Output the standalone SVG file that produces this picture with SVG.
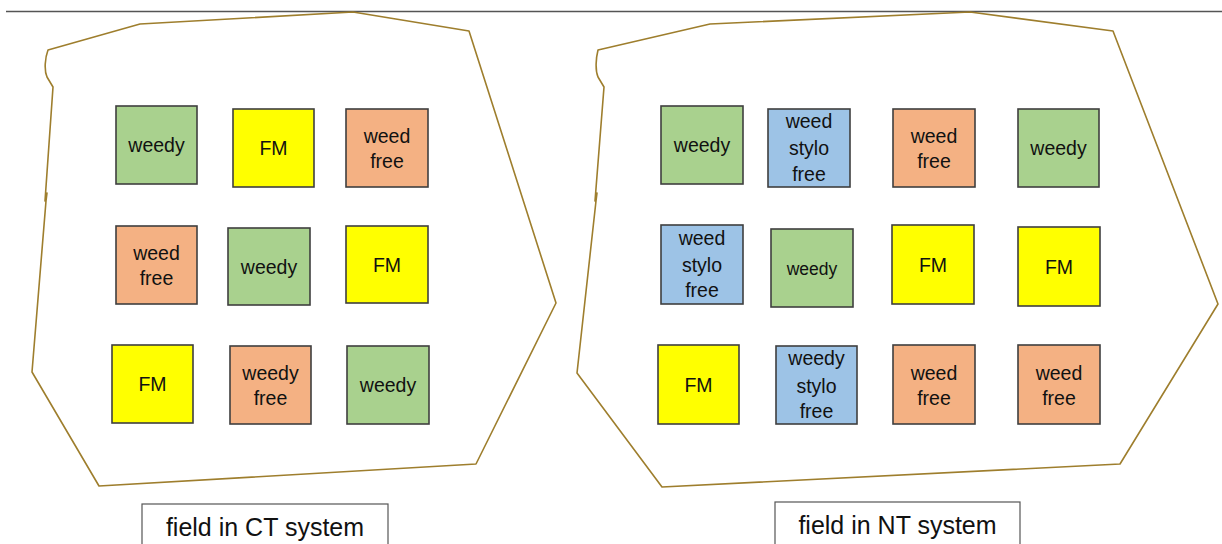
<svg xmlns="http://www.w3.org/2000/svg" width="1222" height="544" viewBox="0 0 1222 544">
<style>
.bg{fill:#ffffff}
.field{fill:none;stroke:#9E7E2D;stroke-width:1.6;stroke-linejoin:round}
.plot{stroke:#3F3F3F;stroke-width:1.6}
.g{fill:#A9D18E}
.y{fill:#FFFF00}
.o{fill:#F4B183}
.b{fill:#9DC3E6}
.t{font-family:"Liberation Sans",Arial,sans-serif;font-size:19.5px;fill:#111111;text-anchor:middle}
.ts{font-size:17.5px}
.lbl{fill:#ffffff;stroke:#555555;stroke-width:1.2}
.lt{font-family:"Liberation Sans",Arial,sans-serif;font-size:25px;fill:#111111;text-anchor:middle}
</style>
<rect class="bg" x="0" y="0" width="1222" height="544"/>
<line x1="6" y1="11.5" x2="1222" y2="11.5" stroke="#555555" stroke-width="1.5"/>
<g id="field-ct">
<path class="field" d="M48,50 L140,24 L353,12 L469,31 L556,303 L476,464 L99,486 L32,372 L46,201 L47,193 L45,201 L53,87 L47,77 C44,70 45,58 48,50 Z"/>
</g>
<g id="field-nt">
<path class="field" d="M598,50 L710,24 L970,12 L1113,31 L1218,304 L1120,464 L662,487 L577,373 L596,201 L597,193 L595,201 L604,87 L598,77 C595,70 596,58 598,50 Z"/>
</g>
<g id="connectors"/>
<g id="ct1"><rect class="plot g" x="116" y="106" width="81" height="78"/><text class="t" x="156.5" y="152">weedy</text></g>
<g id="ct2"><rect class="plot y" x="233" y="109" width="81" height="78"/><text class="t" x="273.5" y="155">FM</text></g>
<g id="ct3"><rect class="plot o" x="346" y="109" width="82" height="78"/><text class="t" x="387" y="143">weed</text><text class="t" x="387" y="168">free</text></g>
<g id="ct4"><rect class="plot o" x="116" y="226" width="81" height="78"/><text class="t" x="156.5" y="260">weed</text><text class="t" x="156.5" y="285">free</text></g>
<g id="ct5"><rect class="plot g" x="228" y="228" width="82" height="77"/><text class="t" x="269" y="273.5">weedy</text></g>
<g id="ct6"><rect class="plot y" x="346" y="226" width="82" height="77"/><text class="t" x="387" y="271.5">FM</text></g>
<g id="ct7"><rect class="plot y" x="112" y="345" width="81" height="78"/><text class="t" x="152.5" y="391">FM</text></g>
<g id="ct8"><rect class="plot o" x="230" y="346" width="81" height="78"/><text class="t" x="270.5" y="380">weedy</text><text class="t" x="270.5" y="405">free</text></g>
<g id="ct9"><rect class="plot g" x="347" y="346" width="82" height="78"/><text class="t" x="388" y="392">weedy</text></g>
<g id="nt1"><rect class="plot g" x="661" y="106" width="82" height="78"/><text class="t" x="702" y="152">weedy</text></g>
<g id="nt2"><rect class="plot b" x="768" y="109" width="82" height="78"/><text class="t" x="809" y="128">weed</text><text class="t" x="809" y="155">stylo</text><text class="t" x="809" y="181">free</text></g>
<g id="nt3"><rect class="plot o" x="893" y="109" width="82" height="78"/><text class="t" x="934" y="143">weed</text><text class="t" x="934" y="168">free</text></g>
<g id="nt4"><rect class="plot g" x="1018" y="109" width="81" height="78"/><text class="t" x="1058.5" y="155">weedy</text></g>
<g id="nt5"><rect class="plot b" x="661" y="225" width="82" height="79"/><text class="t" x="702" y="245">weed</text><text class="t" x="702" y="272">stylo</text><text class="t" x="702" y="297">free</text></g>
<g id="nt6"><rect class="plot g" x="771" y="229" width="82" height="78"/><text class="t ts" x="812" y="275">weedy</text></g>
<g id="nt7"><rect class="plot y" x="892" y="225" width="82" height="79"/><text class="t" x="933" y="271.5">FM</text></g>
<g id="nt8"><rect class="plot y" x="1018" y="227" width="82" height="79"/><text class="t" x="1059" y="273.5">FM</text></g>
<g id="nt9"><rect class="plot y" x="658" y="345" width="81" height="79"/><text class="t" x="698.5" y="391.5">FM</text></g>
<g id="nt10"><rect class="plot b" x="776" y="346" width="81" height="78"/><text class="t" x="816.5" y="365">weedy</text><text class="t" x="816.5" y="393">stylo</text><text class="t" x="816.5" y="418">free</text></g>
<g id="nt11"><rect class="plot o" x="893" y="345" width="82" height="79"/><text class="t" x="934" y="380">weed</text><text class="t" x="934" y="405">free</text></g>
<g id="nt12"><rect class="plot o" x="1018" y="345" width="82" height="79"/><text class="t" x="1059" y="380">weed</text><text class="t" x="1059" y="405">free</text></g>
<g id="label-ct"><rect class="lbl" x="142" y="504" width="246" height="44"/><text class="lt" x="265" y="536">field in CT system</text></g>
<g id="label-nt"><rect class="lbl" x="775" y="502" width="245" height="46"/><text class="lt" x="897.5" y="534">field in NT system</text></g>
</svg>
